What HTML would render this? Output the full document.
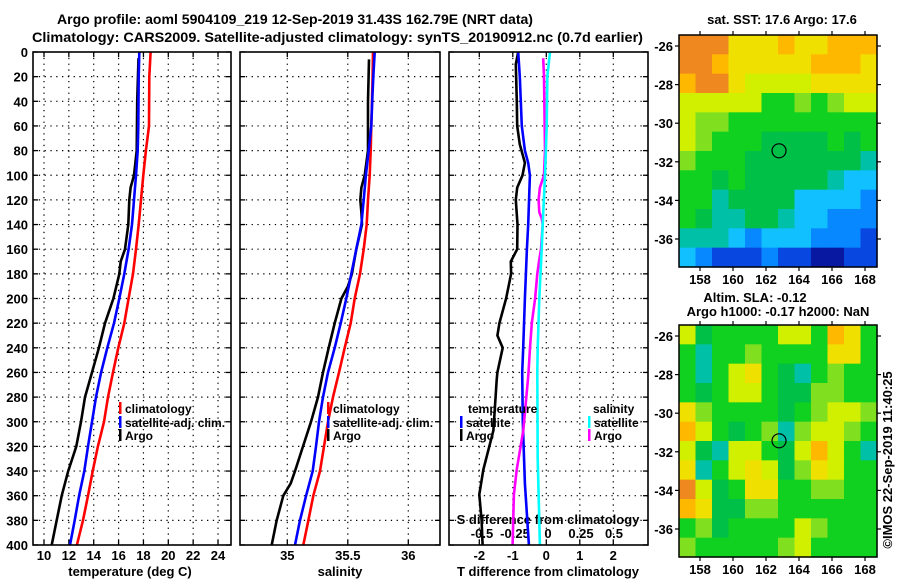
<!DOCTYPE html>
<html><head><meta charset="utf-8">
<style>
html,body{margin:0;padding:0;background:#fff;}
svg{display:block;font-family:"Liberation Sans",sans-serif;font-weight:bold;}
text{font-size:13px;fill:#000;}
text.lg{font-size:12px;}
</style></head>
<body>
<svg id="chart" width="900" height="580" viewBox="0 0 900 580" xmlns="http://www.w3.org/2000/svg">
<text x="57" y="24" textLength="476" lengthAdjust="spacingAndGlyphs" style="font-size:14px">Argo profile: aoml 5904109_219 12-Sep-2019 31.43S 162.79E (NRT data)</text>
<text x="32" y="42" textLength="611" lengthAdjust="spacingAndGlyphs" style="font-size:14px">Climatology: CARS2009. Satellite-adjusted climatology: synTS_20190912.nc (0.7d earlier)</text>
</svg>
<script>
// ---------- data ----------
const depthTicks=[0,20,40,60,80,100,120,140,160,180,200,220,240,260,280,300,320,340,360,380,400];
const tempTicks=[10,12,14,16,18,20,22,24];
const salTicks=[35,35.5,36];
const salTickLabels=['35','35.5','36'];
const tdiffTicks=[-2,-1,0,1,2];
const sdiffTicks=[-0.5,-0.25,0,0.25,0.5];
const sdiffTickLabels=['-0.5','-0.25','0','0.25','0.5'];

const tClimDepth=[0,20,60,80,100,120,140,160,180,200,220,240,260,280,300,320,340,360,380,400];
const tClim=[18.58,18.47,18.45,18.2,17.99,17.8,17.62,17.4,17.16,16.81,16.46,15.98,15.55,15.15,14.83,14.34,13.92,13.54,13.14,12.65];
const tSatDepth=[0,20,60,80,100,120,140,160,180,200,220,240,260,280,300,320,340,360,380,400];
const tSat=[17.67,17.62,17.59,17.54,17.4,17.24,17.08,16.81,16.46,16.06,15.63,15.09,14.59,14.18,13.86,13.54,13.24,12.82,12.47,12.09];
const tArgoDepth=[5,40,80,100,110,120,140,160,170,180,200,220,240,260,280,300,320,340,360,380,400];
const tArgo=[17.6,17.5,17.46,17.24,16.97,16.86,16.78,16.52,16.17,16.06,15.58,14.91,14.42,13.86,13.3,12.98,12.6,11.95,11.42,11.02,10.62];

const sClimDepth=[0,20,40,60,80,100,120,140,160,180,200,220,240,260,280,300,320,340,360,380,400];
const sClim=[35.708,35.705,35.7,35.694,35.689,35.681,35.667,35.656,35.631,35.601,35.557,35.524,35.474,35.427,35.378,35.336,35.303,35.27,35.215,35.174,35.132];
const sSat=[35.722,35.711,35.702,35.694,35.673,35.65,35.631,35.612,35.57,35.529,35.488,35.441,35.392,35.336,35.295,35.262,35.237,35.21,35.155,35.105,35.064];
const sArgoDepth=[6,40,80,100,110,120,130,140,160,180,190,200,220,240,260,280,300,320,340,350,360,380,400];
const sArgo=[35.675,35.667,35.667,35.64,35.612,35.603,35.612,35.617,35.57,35.534,35.502,35.447,35.392,35.342,35.295,35.254,35.196,35.13,35.064,35.028,34.967,34.912,34.871];

const dTSatDepth=[0,20,60,80,90,100,140,160,200,240,260,300,350,400];
const dTSat=[-0.84,-0.79,-0.73,-0.64,-0.54,-0.49,-0.54,-0.58,-0.64,-0.69,-0.72,-0.7,-0.64,-0.52];
const dTArgoDepth=[0,10,40,60,75,90,100,110,120,140,160,170,180,200,220,230,240,260,266,307,339,359,380,400];
const dTArgo=[-0.84,-0.91,-0.88,-0.87,-0.79,-0.64,-0.71,-0.87,-0.91,-0.86,-0.87,-1.06,-1.05,-1.2,-1.4,-1.46,-1.3,-1.46,-1.48,-1.58,-1.88,-2.0,-1.93,-1.9];
const dSArgoDepth=[5,20,80,100,110,120,130,135,140,160,170,180,200,220,240,260,266,307,339,359,400];
const dSArgo=[-0.036,-0.03,-0.023,-0.03,-0.061,-0.071,-0.066,-0.048,-0.04,-0.053,-0.068,-0.081,-0.098,-0.123,-0.136,-0.148,-0.152,-0.187,-0.237,-0.258,-0.268];
const dSSatDepth=[0,20,60,100,140,160,200,240,260,330,400];
const dSSat=[0.015,-0.005,-0.01,-0.023,-0.04,-0.048,-0.066,-0.078,-0.081,-0.078,-0.061];

const lonTicks=[158,160,162,164,166,168];
const latTicks=[-26,-28,-30,-32,-34,-36];
const sstGrid=[
[11,11,11,9,9,9,10,9,9,10,10,10],
[11,11,10,9,9,9,9,9,10,10,10,9],
[10,11,11,9,8,8,8,8,9,9,9,9],
[8,8,8,8,8,6,6,7,6,7,8,8],
[8,7,7,6,6,6,6,6,6,6,6,6],
[8,7,6,6,6,5,5,5,5,6,5,6],
[7,6,6,6,5,5,5,5,5,5,5,4],
[6,6,5,6,5,5,5,5,5,4,3,3],
[6,6,4,5,5,5,5,3,3,3,3,2],
[6,5,4,4,5,5,4,3,3,2,2,2],
[4,4,4,3,2,3,3,3,2,2,2,1],
[3,2,1,1,1,2,1,1,0,0,1,1]];
const slaGrid=[
[8,5,6,6,6,6,8,8,6,10,9,6],
[6,4,6,6,7,6,6,6,6,9,9,6],
[6,4,6,8,9,6,5,4,6,7,6,6],
[6,5,6,8,8,6,5,5,7,7,6,6],
[9,7,6,6,6,6,5,6,7,8,8,7],
[10,8,6,5,6,7,4,7,8,8,7,6],
[8,5,4,8,8,6,5,8,10,8,6,4],
[9,4,6,8,9,8,5,7,9,8,6,6],
[11,8,5,6,9,9,6,6,7,7,6,6],
[10,9,5,5,7,7,6,6,6,6,6,6],
[6,7,5,6,6,6,6,8,7,6,6,6],
[7,6,6,6,6,6,7,8,6,6,6,6]];
const palette=['#0818a0','#0848e0','#0888ff','#10c0ff','#00c0a8','#00c048','#10d020','#80e020','#d0f000','#f0e000','#ffb800','#f08820'];

// ---------- helpers ----------
const svg=document.getElementById('chart');
const NS='http://www.w3.org/2000/svg';
function mk(tag,attrs,parent){const e=document.createElementNS(NS,tag);for(const k in attrs)e.setAttribute(k,attrs[k]);(parent||svg).appendChild(e);return e;}
const Y0=52,Y1=545;
const yD=d=>Y0+(d/400)*(Y1-Y0);
const panels=[
 {x0:33,x1:231,name:'temperature-panel'},
 {x0:240,x1:440,name:'salinity-panel'},
 {x0:449,x1:648,name:'difference-panel'}];
const tx=T=>44+(T-10)*12.43;
const sx=S=>287.3+(S-35)*121;
const dx=T=>546.3+33.5*T;
const dsx=S=>548+132*S;

function frame(p,xs){
  const g=mk('g',{});
  
  
  depthTicks.forEach(d=>{
    if(d>0&&d<400){
      const l=mk('line',{x1:p.x0,x2:p.x1,y1:yD(d),y2:yD(d),stroke:'#000','stroke-width':1.2,'stroke-dasharray':'1.3,4.5'},g);
      
      
    }
    const t1=mk('line',{x1:p.x0,x2:p.x0+5,y1:yD(d),y2:yD(d),stroke:'#000','stroke-width':1.3},g);
    
    
    const t2=mk('line',{x1:p.x1-5,x2:p.x1,y1:yD(d),y2:yD(d),stroke:'#000','stroke-width':1.3},g);
    
    
  });
  xs.forEach(x=>{
    const l=mk('line',{x1:x,x2:x,y1:Y0,y2:Y1,stroke:'#000','stroke-width':1.2,'stroke-dasharray':'1.3,4.5'},g);
    
    
    const a=mk('line',{x1:x,x2:x,y1:Y0,y2:Y0+5,stroke:'#000','stroke-width':1.3},g);
    
    
    const b=mk('line',{x1:x,x2:x,y1:Y1-5,y2:Y1,stroke:'#000','stroke-width':1.3},g);
    
    
  });
  return g;
}
function border(p){
  const r=mk('rect',{x:p.x0,y:Y0,width:p.x1-p.x0,height:Y1-Y0,fill:'none',stroke:'#000','stroke-width':1.6});
  
  
}
function line(xs,ds,xf,color,name){
  const pts=xs.map((v,i)=>xf(v).toFixed(1)+','+yD(ds[i]).toFixed(1)).join(' ');
  const pl=mk('polyline',{points:pts,fill:'none',stroke:color,'stroke-width':2.6,'stroke-linejoin':'round'});
  
  
}
function label(x,y,txt,anchor,name){
  const t=mk('text',{x:x,y:y,'text-anchor':anchor||'start'});
  t.textContent=txt;
  
  
  return t;
}
function legendItem(x,y,color,txt,name){
  const r=mk('rect',{x:x,y:y-11,width:2.5,height:12,fill:color});
  
  
  const t=label(x+6,y,txt,'start',name);
  t.setAttribute('class','lg');
}

// ---------- panels ----------
frame(panels[0],tempTicks.map(tx));
frame(panels[1],salTicks.map(sx));
frame(panels[2],tdiffTicks.map(dx));

depthTicks.forEach(d=>label(28,yD(d)+5,String(d),'end','depth-tick-label'));
tempTicks.forEach(t=>label(tx(t),560,String(t),'middle','temperature-tick-label'));
salTicks.forEach((s,i)=>label(sx(s),560,salTickLabels[i],'middle','salinity-tick-label'));
tdiffTicks.forEach(t=>label(dx(t),560,String(t),'middle','tdiff-tick-label'));
sdiffTicks.forEach((s,i)=>label(dsx(s),538,sdiffTickLabels[i],'middle','sdiff-tick-label'));
label(130,576,'temperature (deg C)','middle','temperature-axis-title');
label(340,576,'salinity','middle','salinity-axis-title');
label(548,576,'T difference from climatology','middle','tdiff-axis-title');
label(548,524,'S difference from climatology','middle','sdiff-axis-title');

line(tArgo,tArgoDepth,tx,'#000','temperature-argo-line');
line(tClim,tClimDepth,tx,'#ff0000','temperature-climatology-line');
line(tSat,tSatDepth,tx,'#0000ff','temperature-satellite-line');
line(sArgo,sArgoDepth,sx,'#000','salinity-argo-line');
line(sClim,sClimDepth,sx,'#ff0000','salinity-climatology-line');
line(sSat,sClimDepth,sx,'#0000ff','salinity-satellite-line');
line(dTArgo,dTArgoDepth,dx,'#000','tdiff-argo-line');
line(dTSat,dTSatDepth,dx,'#0000ff','tdiff-satellite-line');
line(dSArgo,dSArgoDepth,dsx,'#ff00ff','sdiff-argo-line');
line(dSSat,dSSatDepth,dsx,'#00ffff','sdiff-satellite-line');
panels.forEach(border);

legendItem(119,413,'#ff0000','climatology','legend-climatology');
legendItem(119,427,'#0000ff','satellite-adj. clim.','legend-satellite-adj');
legendItem(119,440,'#000','Argo','legend-argo');
legendItem(327,413,'#ff0000','climatology','legend2-climatology');
legendItem(327,427,'#0000ff','satellite-adj. clim.','legend2-satellite-adj');
legendItem(327,440,'#000','Argo','legend2-argo');
label(468,413,'temperature','start','legend3-temperature-heading').setAttribute('class','lg');
legendItem(460,427,'#0000ff','satellite','legend3-t-satellite');
legendItem(460,440,'#000','Argo','legend3-t-argo');
label(593,413,'salinity','start','legend3-salinity-heading').setAttribute('class','lg');
legendItem(588,427,'#00ffff','satellite','legend3-s-satellite');
legendItem(588,440,'#ff00ff','Argo','legend3-s-argo');

// ---------- maps ----------
const MX0=679,MX1=877;
const lonX=l=>700+(l-158)*16.5;
function drawMap(y0,grid,name,tickY){
  const y1=y0+232;
  const latY=la=>y0+11+(-26-la)*19.3;
  const g=mk('g',{});
  
  
  const rows=grid.length,cols=grid[0].length;
  const cw=(MX1-MX0)/cols,ch=(y1-y0)/rows;
  grid.forEach((row,r)=>row.forEach((v,c)=>{
    const cell=mk('rect',{x:(MX0+c*cw).toFixed(2),y:(y0+r*ch).toFixed(2),width:(cw+0.6).toFixed(2),height:(ch+0.6).toFixed(2),fill:palette[v]},g);
    
    
  }));
  const c=mk('circle',{cx:lonX(162.79),cy:latY(-31.43),r:7,fill:'none',stroke:'#000','stroke-width':1.2},g);
  
  
  const b=mk('rect',{x:MX0,y:y0,width:MX1-MX0,height:y1-y0,fill:'none',stroke:'#000','stroke-width':1.5},g);
  
  
  lonTicks.forEach(l=>{
    const t=mk('line',{x1:lonX(l),x2:lonX(l),y1:y0-4,y2:y0,stroke:'#000','stroke-width':1.2},g);
    
    
    const t2=mk('line',{x1:lonX(l),x2:lonX(l),y1:y1,y2:y1+4,stroke:'#000','stroke-width':1.2},g);
    
    
    label(lonX(l),tickY,String(l),'middle','lon-tick-label');
  });
  latTicks.forEach(la=>{
    const t=mk('line',{x1:MX0-4,x2:MX0,y1:latY(la),y2:latY(la),stroke:'#000','stroke-width':1.2},g);
    
    
    const t2=mk('line',{x1:MX1,x2:MX1+4,y1:latY(la),y2:latY(la),stroke:'#000','stroke-width':1.2},g);
    
    
    label(673,latY(la)+5,String(la),'end','lat-tick-label');
  });
}
drawMap(35,sstGrid,'sst-map',284);
drawMap(325,slaGrid,'sla-map',574);
label(782,24,'sat. SST: 17.6 Argo: 17.6','middle','sst-map-title');
label(755,302,'Altim. SLA: -0.12','middle','sla-map-title');
label(778,316,'Argo h1000: -0.17 h2000: NaN','middle','sla-map-subtitle');
const cr=label(0,0,'©IMOS 22-Sep-2019 11:40:25','middle','imos-credit');
cr.setAttribute('transform','translate(892,460) rotate(-90)');
</script>
</body></html>
